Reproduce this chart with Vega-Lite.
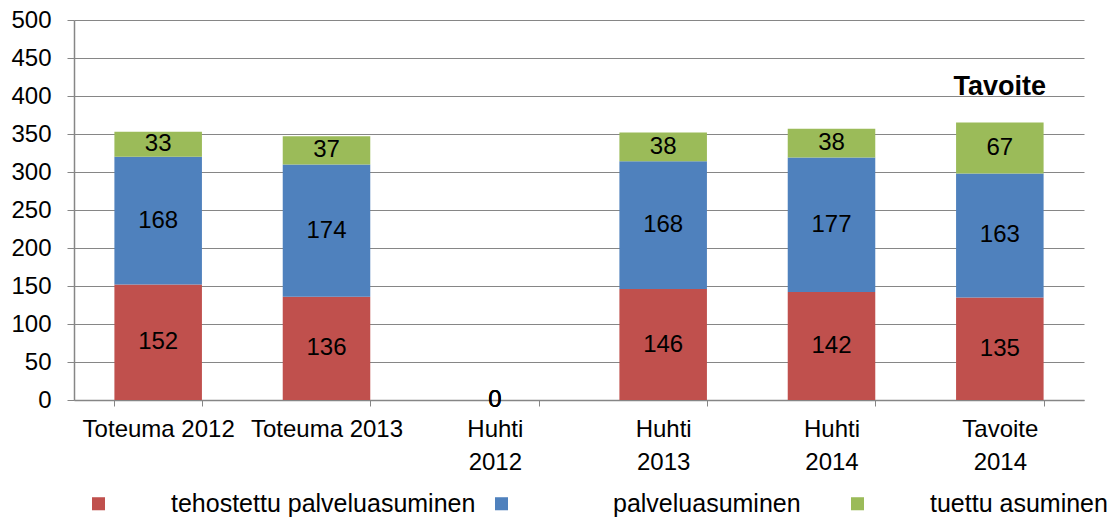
{
  "$schema": "https://vega.github.io/schema/vega-lite/v6.json",
  "width": 1010,
  "height": 380,
  "autosize": {"type": "none"},
  "padding": {"left": 74, "top": 20, "right": 32, "bottom": 119},
  "background": "white",
  "config": {
    "font": "Liberation Sans",
    "view": {"stroke": null},
    "axisY": {
      "labelOverlap": false,
      "labelFontSize": 24,
      "labelColor": "#000000",
      "labelPadding": 16,
      "tickSize": 7,
      "tickColor": "#868686",
      "domainColor": "#868686",
      "domainWidth": 1.5,
      "gridColor": "#868686",
      "gridWidth": 1.2
    }
  },
  "datasets": {
    "bars": [
      {"cat": "Toteuma 2012", "series": "tehostettu palveluasuminen", "value": 152, "ord": 1},
      {"cat": "Toteuma 2012", "series": "palveluasuminen", "value": 168, "ord": 2},
      {"cat": "Toteuma 2012", "series": "tuettu asuminen", "value": 33, "ord": 3},
      {"cat": "Toteuma 2013", "series": "tehostettu palveluasuminen", "value": 136, "ord": 1},
      {"cat": "Toteuma 2013", "series": "palveluasuminen", "value": 174, "ord": 2},
      {"cat": "Toteuma 2013", "series": "tuettu asuminen", "value": 37, "ord": 3},
      {"cat": "Huhti|2012", "series": "tehostettu palveluasuminen", "value": 0, "ord": 1},
      {"cat": "Huhti|2012", "series": "palveluasuminen", "value": 0, "ord": 2},
      {"cat": "Huhti|2012", "series": "tuettu asuminen", "value": 0, "ord": 3},
      {"cat": "Huhti|2013", "series": "tehostettu palveluasuminen", "value": 146, "ord": 1},
      {"cat": "Huhti|2013", "series": "palveluasuminen", "value": 168, "ord": 2},
      {"cat": "Huhti|2013", "series": "tuettu asuminen", "value": 38, "ord": 3},
      {"cat": "Huhti|2014", "series": "tehostettu palveluasuminen", "value": 142, "ord": 1},
      {"cat": "Huhti|2014", "series": "palveluasuminen", "value": 177, "ord": 2},
      {"cat": "Huhti|2014", "series": "tuettu asuminen", "value": 38, "ord": 3},
      {"cat": "Tavoite|2014", "series": "tehostettu palveluasuminen", "value": 135, "ord": 1},
      {"cat": "Tavoite|2014", "series": "palveluasuminen", "value": 163, "ord": 2},
      {"cat": "Tavoite|2014", "series": "tuettu asuminen", "value": 67, "ord": 3}
    ],
    "note": [
      {"cat": "Tavoite|2014", "value": 412, "label": "Tavoite"}
    ]
  },
  "encoding": {
    "x": {
      "field": "cat",
      "type": "nominal",
      "sort": null,
      "scale": {
        "domain": ["Toteuma 2012", "Toteuma 2013", "Huhti|2012", "Huhti|2013", "Huhti|2014", "Tavoite|2014"],
        "paddingInner": 0.48,
        "paddingOuter": 0.24
      },
      "axis": {
        "title": null,
        "labelAngle": 0,
        "labelFontSize": 24,
        "labelColor": "#000000",
        "labelExpr": "split(datum.label, '|')",
        "labelLineHeight": 33,
        "labelPadding": 11,
        "labelBaseline": "top",
        "tickBand": "extent",
        "tickSize": 6,
        "tickColor": "#868686",
        "domainColor": "#868686",
        "domainWidth": 1.5,
        "grid": false
      }
    }
  },
  "layer": [
    {
      "data": {"name": "bars"},
      "mark": {"type": "bar"},
      "encoding": {
        "y": {
          "field": "value",
          "type": "quantitative",
          "stack": "zero",
          "scale": {"domain": [0, 500], "nice": false},
          "axis": {
            "title": null,
            "values": [0, 50, 100, 150, 200, 250, 300, 350, 400, 450, 500]
          }
        },
        "color": {
          "field": "series",
          "type": "nominal",
          "scale": {
            "domain": ["tehostettu palveluasuminen", "palveluasuminen", "tuettu asuminen"],
            "range": ["#C0504D", "#4F81BD", "#9BBB59"]
          },
          "legend": {
            "title": null,
            "orient": "none",
            "legendX": 12,
            "legendY": 471,
            "direction": "horizontal",
            "columns": 3,
            "symbolType": "square",
            "symbolSize": 170,
            "symbolStrokeWidth": 0,
            "labelFontSize": 25,
            "labelColor": "#000000",
            "labelOffset": 60,
            "labelLimit": 500,
            "columnPadding": 13,
            "encode": {
              "symbols": {
                "update": {
                  "x": {"signal": "0.5 * datum.offset + (datum.index == 2 ? 31 : 0)"}
                }
              },
              "labels": {
                "update": {
                  "dx": {"signal": "datum.index == 1 ? 39 : datum.index == 2 ? 31 : 0"}
                }
              }
            }
          }
        },
        "order": {"field": "ord", "type": "quantitative"}
      }
    },
    {
      "data": {"name": "bars"},
      "mark": {"type": "text", "fontSize": 24, "color": "#000000"},
      "encoding": {
        "y": {
          "field": "value",
          "type": "quantitative",
          "stack": "zero",
          "bandPosition": 0.5,
          "axis": {
            "title": null,
            "values": [0, 50, 100, 150, 200, 250, 300, 350, 400, 450, 500]
          }
        },
        "detail": {"field": "series"},
        "order": {"field": "ord", "type": "quantitative"},
        "text": {"field": "value", "type": "quantitative"}
      }
    },
    {
      "data": {"name": "note"},
      "mark": {"type": "text", "fontSize": 27, "fontWeight": "bold", "color": "#000000"},
      "encoding": {
        "y": {
          "field": "value",
          "type": "quantitative",
          "axis": {
            "title": null,
            "values": [0, 50, 100, 150, 200, 250, 300, 350, 400, 450, 500]
          }
        },
        "text": {"field": "label"}
      }
    }
  ]
}
